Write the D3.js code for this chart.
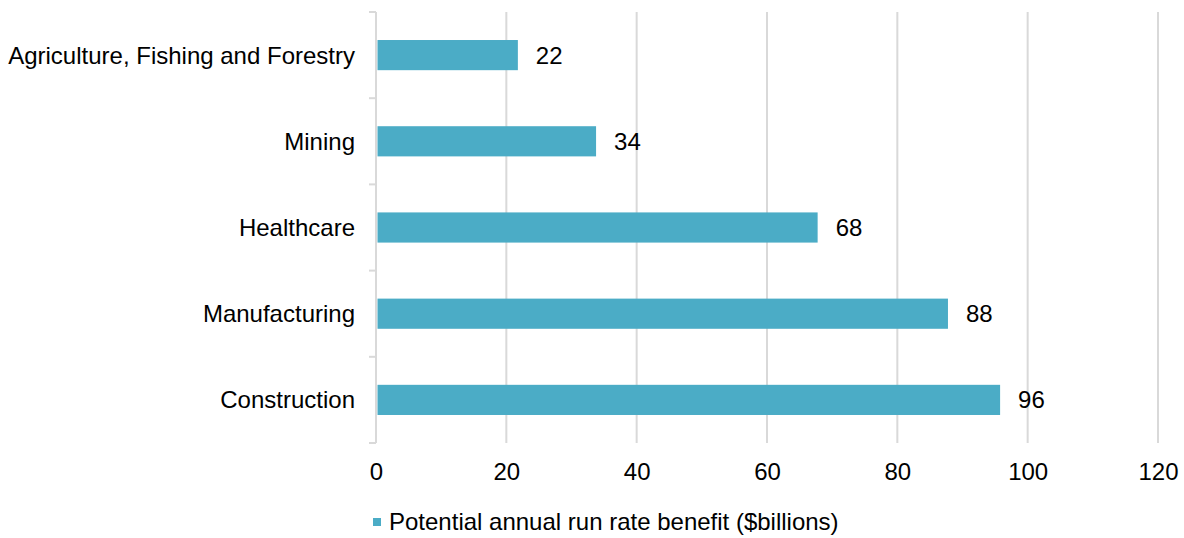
<!DOCTYPE html>
<html><head><meta charset="utf-8">
<script src="https://cdn.jsdelivr.net/npm/d3@7"></script>
<style>body{margin:0;background:#fff;} svg{display:block;}</style>
</head><body>
<script>
const categories = ["Agriculture, Fishing and Forestry","Mining","Healthcare","Manufacturing","Construction"];
const values = [22, 34, 68, 88, 96];
const xTicks = [0, 20, 40, 60, 80, 100, 120];
const seriesName = "Potential annual run rate benefit ($billions)";

(function () {
const W = 1184, H = 538;
const pLeft = 376, pRight = 1158, pTop = 12, pBottom = 443;
const font = "'Liberation Sans', Arial, sans-serif";
const fs = 24;

const svg = d3.select("body").append("svg").attr("width", W).attr("height", H);
const x = d3.scaleLinear().domain([0, 120]).range([pLeft, pRight]);
const y = d3.scaleBand().domain(categories).range([pTop, pBottom]).paddingInner(0.65).paddingOuter(0.325);
const yb = d3.scaleBand().domain(categories).range([pTop, pBottom]);

// gridlines
svg.append("g").selectAll("line").data(xTicks.slice(1)).join("line")
  .attr("x1", d => x(d)).attr("x2", d => x(d)).attr("y1", pTop).attr("y2", pBottom)
  .attr("stroke", "#d9d9d9").attr("stroke-width", 2);

// y axis
svg.append("line").attr("x1", pLeft).attr("x2", pLeft).attr("y1", pTop).attr("y2", pBottom)
  .attr("stroke", "#d9d9d9").attr("stroke-width", 2);
const tickYs = [pTop].concat(categories.map(c => yb(c) + yb.bandwidth()));
svg.append("g").selectAll("line").data(tickYs).join("line")
  .attr("x1", pLeft - 7).attr("x2", pLeft).attr("y1", d => d).attr("y2", d => d)
  .attr("stroke", "#d9d9d9").attr("stroke-width", 2);

// bars
svg.append("g").selectAll("rect").data(values).join("rect")
  .attr("x", x(0) + 1.5).attr("y", (d, i) => y(categories[i]))
  .attr("width", d => x(d) - x(0) - 3).attr("height", y.bandwidth())
  .attr("fill", "#4BACC6");

// value labels
svg.append("g").selectAll("text").data(values).join("text")
  .attr("x", d => x(d) + 16.5).attr("y", (d, i) => yb(categories[i]) + yb.bandwidth() / 2)
  .attr("dy", "0.35em").attr("font-family", font).attr("font-size", fs).attr("fill", "#000")
  .text(d => d);

// category labels
svg.append("g").selectAll("text").data(categories).join("text")
  .attr("x", 355).attr("y", d => yb(d) + yb.bandwidth() / 2)
  .attr("dy", "0.35em").attr("text-anchor", "end")
  .attr("font-family", font).attr("font-size", fs).attr("fill", "#000")
  .text(d => d);

// x tick labels
const xAxis = d3.axisBottom(x).tickValues(xTicks).tickSize(0).tickPadding(0);
const gx = svg.append("g").attr("transform", `translate(0,472)`).call(xAxis);
gx.select(".domain").remove();
gx.selectAll("text").attr("font-family", font).attr("font-size", fs).attr("fill", "#000")
  .attr("dy", "0.35em").attr("y", 0);

// legend
svg.append("rect").attr("x", 373).attr("y", 518).attr("width", 8).attr("height", 8).attr("fill", "#4BACC6");
svg.append("text").attr("x", 389).attr("y", 522).attr("dy", "0.35em")
  .attr("font-family", font).attr("font-size", fs).attr("fill", "#000").text(seriesName);
})();
</script>
</body></html>
